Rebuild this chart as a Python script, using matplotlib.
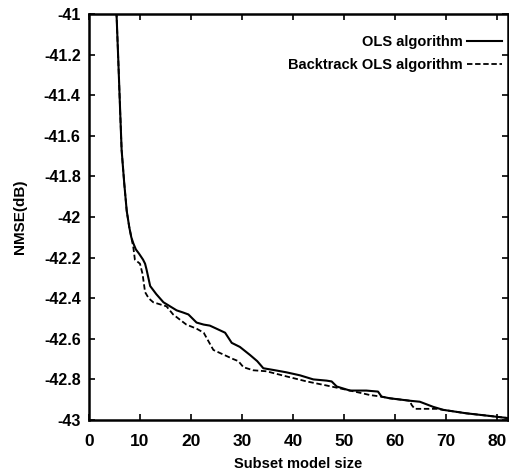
import matplotlib
matplotlib.use("Agg")
import matplotlib.pyplot as plt

plt.rcParams['font.family'] = ['Liberation Sans', 'DejaVu Sans']
plt.rcParams['font.weight'] = 'bold'

ols_x = [5.2, 5.4, 5.75, 6.1, 6.4, 6.9, 7.4, 7.9, 8.3, 8.7, 9.2, 9.8, 10.6, 11.0, 11.3, 12.0, 13.2, 14.6, 15.9, 17.2,
         18.4, 19.5, 21.1, 22.5, 23.7, 25.0, 26.7, 28.0, 29.6, 31.6, 33.0, 34.2, 36.5, 38.7, 41.4,
         44.0, 46.6, 47.6, 48.6, 51.2, 54.4, 56.7, 57.4, 59.0, 62.9, 64.9, 67.5, 69.5, 74.0, 78.6, 82.0]
ols_y = [-40.95, -41.0, -41.23, -41.47, -41.67, -41.83, -41.97, -42.05, -42.1, -42.13, -42.16, -42.18, -42.21, -42.23, -42.26,
         -42.34, -42.38, -42.42, -42.44, -42.46, -42.47, -42.48, -42.52, -42.53, -42.535, -42.55,
         -42.57, -42.62, -42.64, -42.68, -42.71, -42.745, -42.755, -42.765, -42.78, -42.80, -42.806,
         -42.81, -42.835, -42.855, -42.855, -42.86, -42.885, -42.893, -42.905, -42.91, -42.935,
         -42.95, -42.967, -42.98, -42.99]

bols_x = [5.2, 5.4, 5.75, 6.1, 6.4, 6.9, 7.4, 7.9, 8.3, 8.7, 9.0, 10.0, 10.5, 11.0, 11.7, 12.6, 15.2, 16.5, 19.1,
          21.1, 22.5, 24.4, 25.7, 28.3, 29.3, 30.3, 32.2, 34.8, 38.7, 42.7, 46.6, 49.2, 51.2,
          53.0, 55.1, 57.4, 59.0, 62.9, 63.3, 63.9, 68.2, 69.5, 74.0, 78.6, 82.0]
bols_y = [-40.95, -41.0, -41.23, -41.47, -41.67, -41.83, -41.97, -42.05, -42.1, -42.15, -42.21, -42.23, -42.28,
          -42.37, -42.4, -42.42, -42.44, -42.48, -42.53, -42.55, -42.57, -42.655, -42.67, -42.70, -42.71,
          -42.74, -42.755, -42.76, -42.785, -42.81, -42.83, -42.844, -42.855, -42.865, -42.877,
          -42.885, -42.893, -42.905, -42.926, -42.945, -42.945, -42.95, -42.967, -42.98, -42.99]

xticks = [0, 10, 20, 30, 40, 50, 60, 70, 80]
yticks = [-41, -41.2, -41.4, -41.6, -41.8, -42, -42.2, -42.4, -42.6, -42.8, -43]
ytick_labels = ['-41', '-41.2', '-41.4', '-41.6', '-41.8', '-42', '-42.2', '-42.4', '-42.6', '-42.8', '-43']

fig = plt.figure(figsize=(5.09, 4.71), dpi=100)
ax = fig.add_axes([89/509, 1-420/471, (508-89)/509, (420-14)/471])

ax.plot(ols_x, ols_y, color='black', lw=1.5, label='OLS algorithm')
ax.plot(bols_x, bols_y, color='black', lw=1.3, ls=(0, (3, 1.5)), label='Backtrack OLS algorithm')

ax.set_xlim(0, 82.2)
ax.set_ylim(-43, -41)
ax.set_xticks(xticks)
ax.set_yticks(yticks)
ax.set_yticklabels(ytick_labels)
ax.tick_params(direction='in', top=True, right=True, length=4, width=1.2)
ax.tick_params(axis='x', labelsize=12.5, pad=10)
ax.tick_params(axis='y', labelsize=11.5, pad=6)
for lab in ax.get_xticklabels() + ax.get_yticklabels():
    lab.set_fontweight('bold')
for s in ax.spines.values():
    s.set_linewidth(1.8)

ax.set_xlabel('Subset model size', fontsize=10.5, fontweight='bold', labelpad=6)
ax.set_ylabel('NMSE(dB)', fontsize=11, fontweight='bold', labelpad=12)

leg = ax.legend(loc='upper right', bbox_to_anchor=(1.0, 0.962), borderaxespad=0,
                frameon=False, markerfirst=False,
                handlelength=2.4, handletextpad=0.3, labelspacing=0.6,
                prop={'weight': 'bold', 'size': 10.5})
leg._legend_box.align = 'right'

fig.savefig('out.png', dpi=100)
